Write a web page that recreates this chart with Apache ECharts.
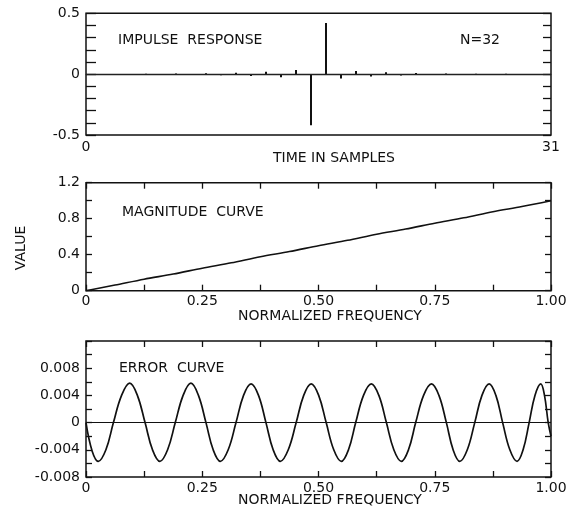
<!DOCTYPE html>
<html><head><meta charset="utf-8">
<script src="https://cdn.jsdelivr.net/npm/echarts@6/dist/echarts.min.js"></script>
<style>html,body{margin:0;padding:0;background:#fff}#c{width:576px;height:513px}</style>
</head><body><div id="c"></div>
<script>
// ---- data ----
const sampleIndex = [0,1,2,3,4,5,6,7,8,9,10,11,12,13,14,15,16,17,18,19,20,21,22,23,24,25,26,27,28,29,30,31];
const impulseValues = [0.002,-0.002,0.002,-0.003,0.003,-0.004,0.005,-0.006,0.008,-0.01,0.012,-0.015,0.02,-0.025,0.035,-0.42,
                       0.42,-0.035,0.025,-0.02,0.015,-0.012,0.01,-0.008,0.006,-0.005,0.004,-0.003,0.003,-0.002,0.002,-0.002];
const impulseYTicks = [-0.5, 0, 0.5];
const impulseYText = ['-0.5', '0', '0.5'];
const impulseXTicks = [0, 31];

const magFreq  = [0,0.0625,0.125,0.1875,0.25,0.3125,0.375,0.4375,0.5,0.5625,0.625,0.6875,0.75,0.8125,0.875,0.9375,1.0];
const magValue = [0,0.063,0.128,0.185,0.25,0.31,0.378,0.435,0.5,0.56,0.628,0.685,0.75,0.81,0.878,0.935,1.0];
const magYTicks = [0, 0.4, 0.8, 1.2];
const magYText = ['0', '0.4', '0.8', '1.2'];

const errFreq  = [0,0.0133,0.0265,0.0428,0.059,0.0765,0.094,0.1105,0.127,0.143,0.159,0.1755,0.192,0.2088,0.2256,0.2418,
                  0.258,0.2735,0.289,0.3058,0.3226,0.3388,0.355,0.371,0.387,0.4025,0.418,0.435,0.452,0.4682,0.4843,0.5004,
                  0.5165,0.5328,0.549,0.5645,0.58,0.5968,0.6136,0.6298,0.646,0.662,0.678,0.6935,0.709,0.726,0.743,0.759,
                  0.775,0.7895,0.804,0.82,0.836,0.8515,0.867,0.8815,0.896,0.9115,0.927,0.94,0.953,0.9655,0.978,0.986,0.994,1.0];
const errValue = [0,-0.0042,-0.0057,-0.004,0,0.004,0.0058,0.004,0,-0.004,-0.0057,-0.004,0,0.004,0.0058,0.004,
                  0,-0.004,-0.0057,-0.004,0,0.004,0.0057,0.004,0,-0.004,-0.0057,-0.004,0,0.004,0.0057,0.004,
                  0,-0.004,-0.0057,-0.004,0,0.004,0.0057,0.004,0,-0.004,-0.0057,-0.004,0,0.004,0.0057,0.004,
                  0,-0.004,-0.0057,-0.004,0,0.004,0.0057,0.004,0,-0.004,-0.0057,-0.004,0,0.004,0.0057,0.004,0,-0.002];
const errYTicks = [-0.008, -0.004, 0, 0.004, 0.008];
const errYText = ['-0.008', '-0.004', '0', '0.004', '0.008'];

const freqTicks = [0, 0.25, 0.5, 0.75, 1.0];
const freqText = ['0', '0.25', '0.50', '0.75', '1.00'];

// ---- chart ----
const FONT = 'DejaVu Sans';
const INK = '#111';
const TF = '14px "DejaVu Sans"';
function pick(ticks, texts) {
  return function (v) {
    for (let i = 0; i < ticks.length; i++) if (Math.abs(ticks[i] - v) < 1e-9) return texts[i];
    return '';
  };
}
const lbl = { fontFamily: FONT, fontSize: 14, color: INK };
function gridBox(top, height) {
  return { left: 86, width: 465, top: top, height: height, show: true, borderColor: INK, borderWidth: 1.5, backgroundColor: 'rgba(0,0,0,0)' };
}
function ax(grid, pos, min, max, interval, tickLen, labels, margin) {
  return {
    type: 'value', gridIndex: grid, position: pos, min: min, max: max, interval: interval,
    axisLine: { show: false, onZero: false }, splitLine: { show: false },
    axisTick: { show: tickLen > 0, inside: true, length: tickLen, lineStyle: { color: INK, width: 1.3 } },
    axisLabel: labels ? Object.assign({ show: true, margin: margin, showMinLabel: true, showMaxLabel: true, formatter: labels }, lbl) : { show: false }
  };
}
const zeroLine = {
  silent: true, symbol: ['none', 'none'], label: { show: false },
  lineStyle: { color: INK, width: 1, type: 'solid' }, data: [{ yAxis: 0 }], animation: false
};

const option = {
  animation: false,
  backgroundColor: '#fff',
  grid: [gridBox(13.3, 121.7), gridBox(182.7, 108), gridBox(341, 136)],
  xAxis: [
    ax(0, 'bottom', 0, 31, 31, 0, pick(impulseXTicks, ['0', '31']), 5),
    ax(1, 'bottom', 0, 1, 0.125, 6, pick(freqTicks, freqText), 4),
    ax(1, 'top', 0, 1, 0.125, 6, null),
    ax(2, 'bottom', 0, 1, 0.125, 6, pick(freqTicks, freqText), 4),
    ax(2, 'top', 0, 1, 0.125, 6, null)
  ],
  yAxis: [
    ax(0, 'left', -0.5, 0.5, 0.1, 10, pick(impulseYTicks, impulseYText), 6),
    ax(0, 'right', -0.5, 0.5, 0.1, 8, null),
    ax(1, 'left', 0, 1.2, 0.2, 6, pick(magYTicks, magYText), 6),
    ax(1, 'right', 0, 1.2, 0.2, 6, null),
    ax(2, 'left', -0.008, 0.012, 0.002, 6, pick(errYTicks, errYText), 6),
    ax(2, 'right', -0.008, 0.012, 0.002, 6, null)
  ],
  series: [
    {
      type: 'bar', xAxisIndex: 0, yAxisIndex: 0, barWidth: 2,
      itemStyle: { color: INK },
      data: sampleIndex.map((n, i) => [n, impulseValues[i]]),
      markLine: Object.assign({}, zeroLine, { lineStyle: { color: '#222', width: 1.3, type: 'solid' } })
    },
    {
      type: 'line', xAxisIndex: 1, yAxisIndex: 2, showSymbol: false, smooth: 0.3,
      lineStyle: { color: INK, width: 1.6 },
      data: magFreq.map((f, i) => [f, magValue[i]])
    },
    {
      type: 'line', xAxisIndex: 3, yAxisIndex: 4, showSymbol: false, smooth: 0.4,
      lineStyle: { color: INK, width: 1.7 },
      data: errFreq.map((f, i) => [f, errValue[i]]),
      markLine: zeroLine
    }
  ],
  graphic: [
    { type: 'text', x: 118, y: 40, style: { text: 'IMPULSE  RESPONSE', font: TF, fill: INK, textVerticalAlign: 'middle' } },
    { type: 'text', x: 460, y: 40, style: { text: 'N=32', font: TF, fill: INK, textVerticalAlign: 'middle' } },
    { type: 'text', x: 334, y: 158, style: { text: 'TIME IN SAMPLES', font: TF, fill: INK, textAlign: 'center', textVerticalAlign: 'middle' } },
    { type: 'text', x: 122, y: 212, style: { text: 'MAGNITUDE  CURVE', font: TF, fill: INK, textVerticalAlign: 'middle' } },
    { type: 'text', x: 330, y: 316, style: { text: 'NORMALIZED FREQUENCY', font: TF, fill: INK, textAlign: 'center', textVerticalAlign: 'middle' } },
    { type: 'text', x: 21, y: 248, rotation: Math.PI / 2, style: { text: 'VALUE', font: TF, fill: INK, textAlign: 'center', textVerticalAlign: 'middle' } },
    { type: 'text', x: 119, y: 368, style: { text: 'ERROR  CURVE', font: TF, fill: INK, textVerticalAlign: 'middle' } },
    { type: 'text', x: 330, y: 500, style: { text: 'NORMALIZED FREQUENCY', font: TF, fill: INK, textAlign: 'center', textVerticalAlign: 'middle' } }
  ]
};
const chart = echarts.init(document.getElementById('c'), null, { renderer: 'canvas' });
chart.setOption(option);
</script>
</body></html>
